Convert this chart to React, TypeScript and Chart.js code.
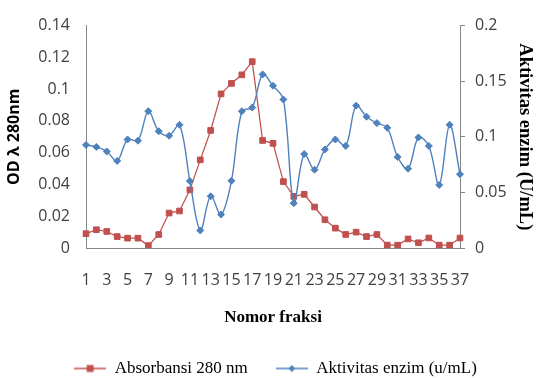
import React, { useEffect, useRef } from "react";
import { Chart, registerables } from "chart.js";

Chart.register(...registerables);

const fractions: string[] = Array.from({ length: 37 }, (_, i) => String(i + 1));

const absorbansi: number[] = [
  0.009, 0.0115, 0.0104, 0.0072, 0.0062, 0.0062, 0.0015, 0.0085, 0.022, 0.0233,
  0.0366, 0.0555, 0.074, 0.097, 0.1036, 0.109, 0.1173, 0.0677, 0.0659, 0.0418,
  0.0325, 0.0338, 0.0258, 0.0178, 0.0125, 0.0085, 0.01, 0.0072, 0.0085, 0.0018,
  0.0018, 0.0057, 0.0033, 0.0063, 0.0018, 0.0018, 0.0063,
];

const aktivitas: number[] = [
  0.0927, 0.0909, 0.0868, 0.0783, 0.0976, 0.0965, 0.123, 0.105, 0.1009, 0.1108,
  0.0602, 0.0158, 0.0465, 0.0301, 0.0605, 0.123, 0.1263, 0.1561, 0.1459, 0.1336,
  0.0403, 0.0845, 0.0704, 0.0886, 0.0976, 0.0918, 0.128, 0.1181, 0.1123, 0.1081,
  0.0818, 0.0713, 0.0994, 0.0918, 0.0567, 0.1108, 0.0664,
];

const leftTicks = { min: 0, max: 0.14, step: 0.02 };
const rightTicks = { min: 0, max: 0.2, step: 0.05 };

const RED = "#C0504D";
const BLUE = "#4F81BD";
const AXIS = "#868686";
const TICK_TEXT = "#404040";

function legendIcon(color: string, shape: "square" | "diamond"): HTMLCanvasElement {
  const c = document.createElement("canvas");
  c.width = 32;
  c.height = 10;
  const g = c.getContext("2d")!;
  g.strokeStyle = color;
  g.lineWidth = 1.5;
  g.beginPath();
  g.moveTo(0, 5);
  g.lineTo(32, 5);
  g.stroke();
  g.fillStyle = color;
  if (shape === "square") {
    g.fillRect(12.5, 1.5, 7, 7);
  } else {
    g.beginPath();
    g.moveTo(16, 1.5);
    g.lineTo(19.5, 5);
    g.lineTo(16, 8.5);
    g.lineTo(12.5, 5);
    g.closePath();
    g.fill();
  }
  return c;
}

const fmt = (v: number | string) => String(Number(Number(v).toFixed(3)));

const legendShift = {
  id: "legendShift",
  afterLayout(chart: any) {
    if (chart.legend) {
      chart.legend.left += 6;
      chart.legend.right += 6;
    }
  },
};

export default function App() {
  const ref = useRef<HTMLCanvasElement | null>(null);

  useEffect(() => {
    if (!ref.current) return;
    const redIcon = legendIcon(RED, "square");
    const blueIcon = legendIcon(BLUE, "diamond");
    const chart = new Chart(ref.current, {
      type: "line",
      plugins: [legendShift],
      data: {
        labels: fractions,
        datasets: [
          {
            label: "Absorbansi 280 nm",
            data: absorbansi,
            yAxisID: "y",
            borderColor: RED,
            backgroundColor: RED,
            borderWidth: 1.25,
            tension: 0,
            pointStyle: "rect",
            pointRadius: 4,
            pointBackgroundColor: RED,
            pointBorderColor: RED,
            pointBorderWidth: 1,
            order: 1,
          },
          {
            label: "Aktivitas enzim (u/mL)",
            data: aktivitas,
            yAxisID: "y1",
            borderColor: BLUE,
            backgroundColor: BLUE,
            borderWidth: 1.4,
            tension: 0.35,
            pointStyle: "rectRot",
            pointRadius: 3.5,
            pointBackgroundColor: BLUE,
            pointBorderColor: BLUE,
            pointBorderWidth: 1,
            order: 0,
          },
        ],
      },
      options: {
        animation: false,
        responsive: true,
        maintainAspectRatio: false,
        layout: { padding: { top: 20, left: 0, right: 0, bottom: -9 } },
        plugins: {
          tooltip: { enabled: false },
          legend: {
            position: "bottom",
            labels: {
              usePointStyle: true,
              pointStyleWidth: 32,
              padding: 28,
              color: "#000",
              font: { family: "'Liberation Serif', 'Times New Roman', serif", size: 17 },
              generateLabels: () => [
                {
                  text: "Absorbansi 280 nm",
                  fillStyle: RED,
                  strokeStyle: RED,
                  pointStyle: redIcon,
                  datasetIndex: 0,
                  lineWidth: 0,
                  hidden: false,
                },
                {
                  text: "Aktivitas enzim (u/mL)",
                  fillStyle: BLUE,
                  strokeStyle: BLUE,
                  pointStyle: blueIcon,
                  datasetIndex: 1,
                  lineWidth: 0,
                  hidden: false,
                },
              ],
            },
          },
        },
        scales: {
          x: {
            type: "category",
            offset: false,
            grid: { display: true, drawOnChartArea: false, drawTicks: false },
            border: { display: true, color: AXIS, width: 1 },
            ticks: {
              autoSkip: false,
              maxRotation: 0,
              minRotation: 0,
              padding: 23,
              color: TICK_TEXT,
              font: { family: "'Open Sans', sans-serif", size: 16 },
              callback: (_v: any, i: number) => (i % 2 === 0 ? fractions[i] : ""),
            },
            title: {
              display: true,
              text: "Nomor fraksi",
              color: "#000",
              font: { family: "'Liberation Serif', 'Times New Roman', serif", size: 17, weight: "bold" },
              padding: { top: 0, bottom: 4 },
            },
            afterFit: (s: any) => {
              s.height = 84;
            },
          },
          y: {
            position: "left",
            min: leftTicks.min,
            max: leftTicks.max,
            grid: { display: true, drawOnChartArea: false, drawTicks: false },
            border: { display: true, color: AXIS, width: 1 },
            ticks: {
              stepSize: leftTicks.step,
              padding: 16,
              color: TICK_TEXT,
              font: { family: "'Open Sans', sans-serif", size: 16 },
              callback: (v: any) => fmt(v),
            },
            title: {
              display: true,
              text: "OD λ 280nm",
              color: "#000",
              font: { family: "'Open Sans', sans-serif", size: 16, weight: "bold" },
              padding: { top: 5, bottom: 0 },
            },
            afterFit: (s: any) => {
              s.width = 86;
            },
          },
          y1: {
            position: "right",
            min: rightTicks.min,
            max: rightTicks.max,
            grid: { display: true, drawOnChartArea: false, drawTicks: true, tickLength: 5, color: AXIS },
            border: { display: true, color: AXIS, width: 1 },
            ticks: {
              stepSize: rightTicks.step,
              padding: 10,
              color: TICK_TEXT,
              font: { family: "'Open Sans', sans-serif", size: 16 },
              callback: (v: any) => fmt(v),
            },
            title: {
              display: true,
              text: "Aktivitas enzim (U/mL)",
              color: "#000",
              font: { family: "'Liberation Serif', 'Times New Roman', serif", size: 18.5, weight: "bold" },
              padding: { top: 3, bottom: 0 },
            },
            afterFit: (s: any) => {
              s.width = 79;
            },
          },
        },
      },
    });
    return () => chart.destroy();
  }, []);

  return (
    <div style={{ position: "absolute", left: 0, top: 0, width: 539, height: 378, background: "#fff" }}>
      <canvas ref={ref} />
    </div>
  );
}
